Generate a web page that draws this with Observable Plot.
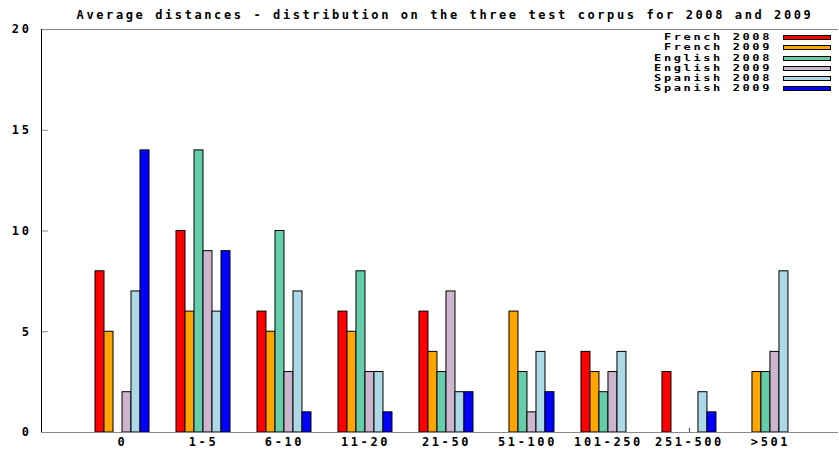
<!DOCTYPE html>
<html>
<head>
<meta charset="utf-8">
<script src="https://cdn.jsdelivr.net/npm/d3@7"></script>
<script src="https://cdn.jsdelivr.net/npm/@observablehq/plot@0.6"></script>
<style>
  html, body { margin: 0; padding: 0; background: #fff; }
  #wrap { position: relative; width: 839px; height: 450px; }
  #wrap svg text { font-family: "DejaVu Sans Mono", monospace; font-weight: bold; font-size: 12px; letter-spacing: 2.6px; fill: #000; }
  #legend { position: absolute; left: 0; top: 32px; width: 839px; font-family: "DejaVu Sans Mono", monospace; font-weight: bold; font-size: 12px; letter-spacing: 2.6px; color: #000; }
  .row { position: relative; height: 10.3px; }
  .row .lab { position: absolute; right: 67px; top: 0px; height: 14px; line-height: 14px; margin-top: -2px; white-space: pre; transform: scaleY(0.7); transform-origin: 50% 50%; }
  .row .sw { position: absolute; left: 783px; top: 3px; width: 46px; height: 3px; border: 1px solid #000; }
</style>
</head>
<body>
<div id="wrap"></div>
<script>
const title = "Average distances - distribution on the three test corpus for 2008 and 2009";
const categories = ["0", "1-5", "6-10", "11-20", "21-50", "51-100", "101-250", "251-500", ">501"];
const seriesNames = ["French 2008", "French 2009", "English 2008", "English 2009", "Spanish 2008", "Spanish 2009"];
const seriesColors = ["#ff0000", "#ffa500", "#66cdaa", "#cdb5cd", "#add8e6", "#0000ff"];
const french2008  = [8, 10, 6, 6, 6, 0, 4, 3, 0];
const french2009  = [5, 6, 5, 5, 4, 6, 3, 0, 3];
const english2008 = [0, 14, 10, 8, 3, 3, 2, 0, 3];
const english2009 = [2, 9, 3, 3, 7, 1, 3, 0, 4];
const spanish2008 = [7, 6, 7, 3, 2, 4, 4, 2, 8];
const spanish2009 = [14, 9, 1, 1, 2, 2, 0, 1, 0];
const yTicks = [0, 5, 10, 15, 20];

const seriesValues = [french2008, french2009, english2008, english2009, spanish2008, spanish2009];
const nSeries = seriesNames.length;
const boxWidth = 1 / (nSeries + 3); // clustered histogram, gap 3

const bars = [];
seriesValues.forEach((vals, s) => {
  vals.forEach((v, i) => {
    if (v > 0) bars.push({cat: i, series: seriesNames[s], value: v,
      x1: i - (nSeries / 2) * boxWidth + s * boxWidth,
      x2: i - (nSeries / 2) * boxWidth + (s + 1) * boxWidth});
  });
});
const catIdx = categories.map((c, i) => i);

const chart = Plot.plot({
  width: 839,
  height: 450,
  marginLeft: 41,
  marginRight: 1,
  marginTop: 29,
  marginBottom: 18,
  x: {type: "linear", domain: [-1, 8.84], axis: null, label: null},
  y: {domain: [0, 20], axis: null, label: null},
  color: {domain: seriesNames, range: seriesColors},
  marks: [
    Plot.ruleY([20], {stroke: "#888", strokeWidth: 1}),
    Plot.axisY({ticks: yTicks, tickSize: -7, stroke: "#888", text: null, label: null}),
    Plot.axisY({ticks: yTicks, tickSize: 0, tickPadding: 10, tickFormat: d => String(d), label: null}),
    Plot.axisX({ticks: catIdx, tickSize: -4, stroke: "#444", text: null, label: null}),
    Plot.axisX({ticks: catIdx, tickSize: 0, tickPadding: 5, tickFormat: i => categories[i], label: null}),
    Plot.rectY(bars, {x1: "x1", x2: "x2", y1: 0, y2: "value", fill: "series", stroke: "#000", strokeWidth: 1}),
    Plot.ruleY([0], {stroke: "#888", strokeWidth: 1}),
    Plot.ruleX([-1], {stroke: "#000", strokeWidth: 1}),
    Plot.text([title], {frameAnchor: "top", dy: -19, dx: 5})
  ]
});
document.getElementById("wrap").appendChild(chart);

const legend = document.createElement("div");
legend.id = "legend";
seriesNames.forEach((name, i) => {
  const row = document.createElement("div");
  row.className = "row";
  const lab = document.createElement("span");
  lab.className = "lab";
  lab.textContent = name;
  const sw = document.createElement("span");
  sw.className = "sw";
  sw.style.background = seriesColors[i];
  row.appendChild(lab);
  row.appendChild(sw);
  legend.appendChild(row);
});
document.getElementById("wrap").appendChild(legend);
</script>
</body>
</html>
